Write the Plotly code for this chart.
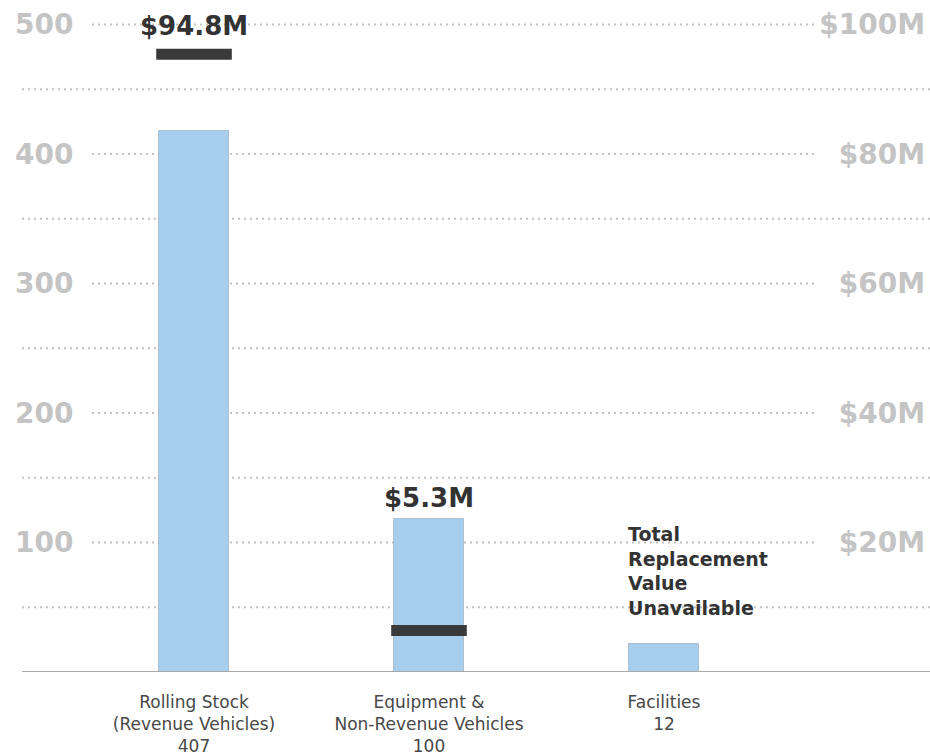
import plotly.graph_objects as go

# ---- data ----
category_names = ["Rolling Stock<br>(Revenue Vehicles)", "Equipment &<br>Non-Revenue Vehicles", "Facilities"]
asset_counts = [407, 100, 12]
bar_heights = [418, 118, 22]            # as drawn against the left axis
replacement_values = [95.4, 6.4, None]  # $M, right axis (marker position)
replacement_labels = ["$94.8M", "$5.3M", None]
unavailable_note = "Total<br>Replacement<br>Value<br>Unavailable"
left_ticks = [100, 200, 300, 400, 500]
left_minor = [50, 150, 250, 350, 450]
right_ticks = [20, 40, 60, 80, 100]
right_ticktext = ["$20M", "$40M", "$60M", "$80M", "$100M"]

W, H = 930, 755
LEFT_MAX = 515
SCALE = 5  # left units per $1M

tick_text = [f"{n}<br>{c}" for n, c in zip(category_names, asset_counts)]

BAR_COLOR = "#A8CEEE"
DARK = "#3a3a3a"
GRID = "#c2c2c2"
LABEL_GRAY = "#c4c4c4"

fig = go.Figure()
fig.add_trace(go.Bar(
    x=category_names, y=bar_heights, width=0.3,
    marker=dict(color=BAR_COLOR, line=dict(color="rgba(140,160,175,0.55)", width=1)),
    yaxis="y", showlegend=False, hoverinfo="skip",
))
mk_x = [c for c, v in zip(category_names, replacement_values) if v is not None]
mk_y = [v for v in replacement_values if v is not None]
fig.add_trace(go.Scatter(
    x=mk_x, y=mk_y, yaxis="y2", mode="markers",
    marker=dict(symbol="line-ew", size=54, line=dict(color=DARK, width=11)),
    showlegend=False, hoverinfo="skip", cliponaxis=False,
))

# value labels
for c, h, v, lab in zip(category_names, bar_heights, replacement_values, replacement_labels):
    if lab is None:
        continue
    top = max(h, v * SCALE)
    fig.add_annotation(x=c, y=top, xref="x", yref="y", text=f"<b>{lab}</b>",
                       showarrow=False, yanchor="bottom", yshift=11 if v * SCALE > h else 4,
                       font=dict(family="DejaVu Sans", size=26, color="#333333"))

fig.add_annotation(x=category_names[2], y=78, xref="x", yref="y", text=f"<b>{unavailable_note}</b>",
                   showarrow=False, xanchor="left", yanchor="middle", align="left", xshift=-38,
                   font=dict(family="DejaVu Sans", size=19, color="#333333"))

# gridlines
shapes = []
for v in left_ticks:
    shapes.append(dict(type="line", xref="paper", yref="y", x0=92 / W, x1=818 / W, y0=v, y1=v,
                       line=dict(color=GRID, width=2, dash="2px,4px"), layer="below"))
for v in left_minor:
    shapes.append(dict(type="line", xref="paper", yref="y", x0=22 / W, x1=1, y0=v, y1=v,
                       line=dict(color=GRID, width=2, dash="2px,4px"), layer="below"))
shapes.append(dict(type="line", xref="paper", yref="y", x0=22 / W, x1=1, y0=0, y1=0,
                   line=dict(color="#a8a8a8", width=2), layer="above"))

span = 235
c0 = 194
fig.update_layout(
    width=W, height=H,
    margin=dict(l=0, r=0, t=5, b=83),
    paper_bgcolor="white", plot_bgcolor="white",
    shapes=shapes,
    xaxis=dict(range=[-c0 / span, (W - c0) / span], tickvals=category_names, ticktext=tick_text,
               showgrid=False, zeroline=False, showline=False, ticks="", ticklabelstandoff=18,
               tickfont=dict(family="DejaVu Sans", size=17, color="#484848")),
    yaxis=dict(range=[0, LEFT_MAX], tickvals=left_ticks, showgrid=False, zeroline=False,
               ticks="", ticklabelposition="inside", ticklabelstandoff=12, ticklabeloverflow="allow",
               tickfont=dict(family="DejaVu Sans", size=28, color=LABEL_GRAY, weight=700)),
    yaxis2=dict(range=[0, LEFT_MAX / SCALE], tickvals=right_ticks, ticktext=right_ticktext,
                overlaying="y", side="right", showgrid=False, zeroline=False,
                ticks="", ticklabelposition="inside", ticklabelstandoff=2, ticklabeloverflow="allow",
                tickfont=dict(family="DejaVu Sans", size=28, color=LABEL_GRAY, weight=700)),
    bargap=0,
)
fig.write_html("out.html")
